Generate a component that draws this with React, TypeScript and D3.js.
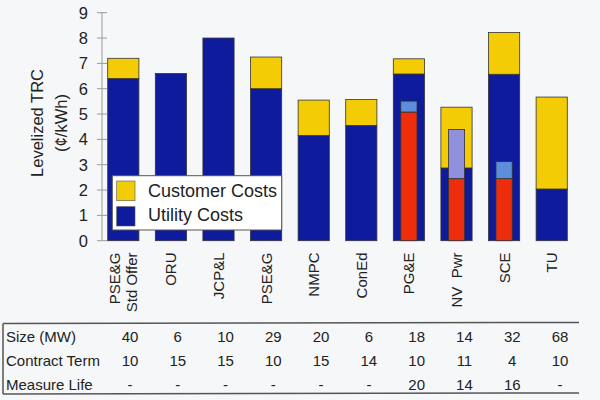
import React, { useEffect } from 'react';
import * as d3 from 'd3';

const categories: string[][] = [
  ['PSE&G', 'Std Offer'],
  ['ORU'],
  ['JCP&L'],
  ['PSE&G'],
  ['NMPC'],
  ['ConEd'],
  ['PG&E'],
  ['NV\u00a0\u00a0Pwr'],
  ['SCE'],
  ['TU'],
];

// cents/kWh
const utilityCosts = [6.4, 6.6, 8.0, 6.0, 4.15, 4.55, 6.58, 2.87, 6.57, 2.04];
const customerCosts = [0.8, 0, 0, 1.25, 1.4, 1.02, 0.6, 2.4, 1.65, 3.63];
const innerRed = [0, 0, 0, 0, 0, 0, 5.08, 2.45, 2.45, 0];
const innerBlue = [0, 0, 0, 0, 0, 0, 0.43, 0, 0.67, 0];
const innerLavender = [0, 0, 0, 0, 0, 0, 0, 1.94, 0, 0];

const yTicks = [0, 1, 2, 3, 4, 5, 6, 7, 8, 9];

const rowLabels = ['Size (MW)', 'Contract Term', 'Measure Life'];
const sizeMW = ['40', '6', '10', '29', '20', '6', '18', '14', '32', '68'];
const contractTerm = ['10', '15', '15', '10', '15', '14', '10', '11', '4', '10'];
const measureLife = ['-', '-', '-', '-', '-', '-', '20', '14', '16', '-'];
const tableRows = [sizeMW, contractTerm, measureLife];

const COLORS = {
  utility: '#0d1b9c',
  customer: '#f4cc06',
  red: '#ee2d0c',
  blue: '#5c8fdb',
  lavender: '#9090dc',
};

const FONT = '"Liberation Sans", Arial, sans-serif';

export default function App() {
  useEffect(() => {
    document.body.style.margin = '0';
  }, []);

  const width = 600;
  const height = 400;

  const idx = categories.map((_, i) => String(i));

  const x = d3.scaleBand<string>()
    .domain(idx)
    .range([102, 573])
    .paddingInner(0.345)
    .paddingOuter(0.12);

  const y = d3.scaleLinear().domain([0, 9]).range([240.7, 12.7]);

  const tableX = d3.scalePoint<string>().domain(idx).range([130, 560]);

  const bw = x.bandwidth();
  const innerW = bw * 0.52;

  const rect = (i: number, from: number, to: number, fill: string, w: number, key: string) => {
    if (to - from <= 0) return null;
    const cx = (x(String(i)) as number) + bw / 2;
    return (
      <rect
        key={key}
        x={cx - w / 2}
        y={y(to)}
        width={w}
        height={y(from) - y(to)}
        fill={fill}
        stroke="#333"
        strokeWidth={0.8}
      />
    );
  };

  return (
    <svg width={width} height={height} style={{ display: 'block', background: '#f6f7f9', fontFamily: FONT }}>
      {/* y axis */}
      <line x1={102} x2={102} y1={y(9)} y2={y(0)} stroke="#9a9a9a" strokeWidth={1} />
      {yTicks.map(t => (
        <g key={t}>
          <line x1={97} x2={107} y1={y(t)} y2={y(t)} stroke="#9a9a9a" strokeWidth={1} />
          <text x={88} y={y(t)} dy="0.36em" textAnchor="end" fontSize={16.5} fill="#222">{t}</text>
        </g>
      ))}
      <text transform={`translate(37,123) rotate(-90)`} textAnchor="middle" dominantBaseline="central" fontSize={16.5} fill="#222">
        Levelized TRC
      </text>
      <text transform={`translate(61,123) rotate(-90)`} textAnchor="middle" dominantBaseline="central" fontSize={16.5} fill="#222">
        (¢/kWh)
      </text>

      {/* bars */}
      {categories.map((_, i) => (
        <g key={i}>
          {rect(i, 0, utilityCosts[i], COLORS.utility, bw, 'u')}
          {rect(i, utilityCosts[i], utilityCosts[i] + customerCosts[i], COLORS.customer, bw, 'c')}
          {rect(i, 0, innerRed[i], COLORS.red, innerW, 'r')}
          {rect(i, innerRed[i], innerRed[i] + innerBlue[i], COLORS.blue, innerW, 'b')}
          {rect(i, innerRed[i] + innerBlue[i], innerRed[i] + innerBlue[i] + innerLavender[i], COLORS.lavender, innerW, 'l')}
        </g>
      ))}

      {/* legend */}
      <g>
        <rect x={112.3} y={175.7} width={169.4} height={54.3} fill="#ffffff" stroke="#555" strokeWidth={1} />
        <rect x={116.7} y={181} width={18.3} height={19.7} fill={COLORS.customer} stroke="#555" strokeWidth={0.6} />
        <rect x={116.7} y={206.7} width={18.3} height={19.3} fill={COLORS.utility} stroke="#555" strokeWidth={0.6} />
        <text x={148} y={196.5} fontSize={18} fill="#222">Customer Costs</text>
        <text x={148} y={220.5} fontSize={18} fill="#222">Utility Costs</text>
      </g>

      {/* category labels */}
      {categories.map((lines, i) => {
        const cx = (x(String(i)) as number) + bw / 2;
        return lines.map((l, j) => {
          const lx = cx + (j - (lines.length - 1) / 2) * 17;
          return (
            <text
              key={`${i}-${j}`}
              transform={`translate(${lx},252.5) rotate(-90)`}
              textAnchor="end"
              dominantBaseline="central"
              fontSize={15}
              fill="#222"
            >
              {l}
            </text>
          );
        });
      })}

      {/* table */}
      <line x1={3} x2={579} y1={323.5} y2={322.5} stroke="#555" strokeWidth={1.5} />
      <line x1={3} x2={579} y1={394} y2={393} stroke="#555" strokeWidth={1.5} />
      <line x1={3} x2={3} y1={323.5} y2={394} stroke="#555" strokeWidth={1.5} />
      {rowLabels.map((r, ri) => (
        <g key={r}>
          <text x={6} y={342 + ri * 24} fontSize={15} fill="#222">{r}</text>
          {tableRows[ri].map((v, i) => (
            <text key={i} x={tableX(String(i))} y={342 + ri * 24} textAnchor="middle" fontSize={15} fill="#222">{v}</text>
          ))}
        </g>
      ))}
    </svg>
  );
}
